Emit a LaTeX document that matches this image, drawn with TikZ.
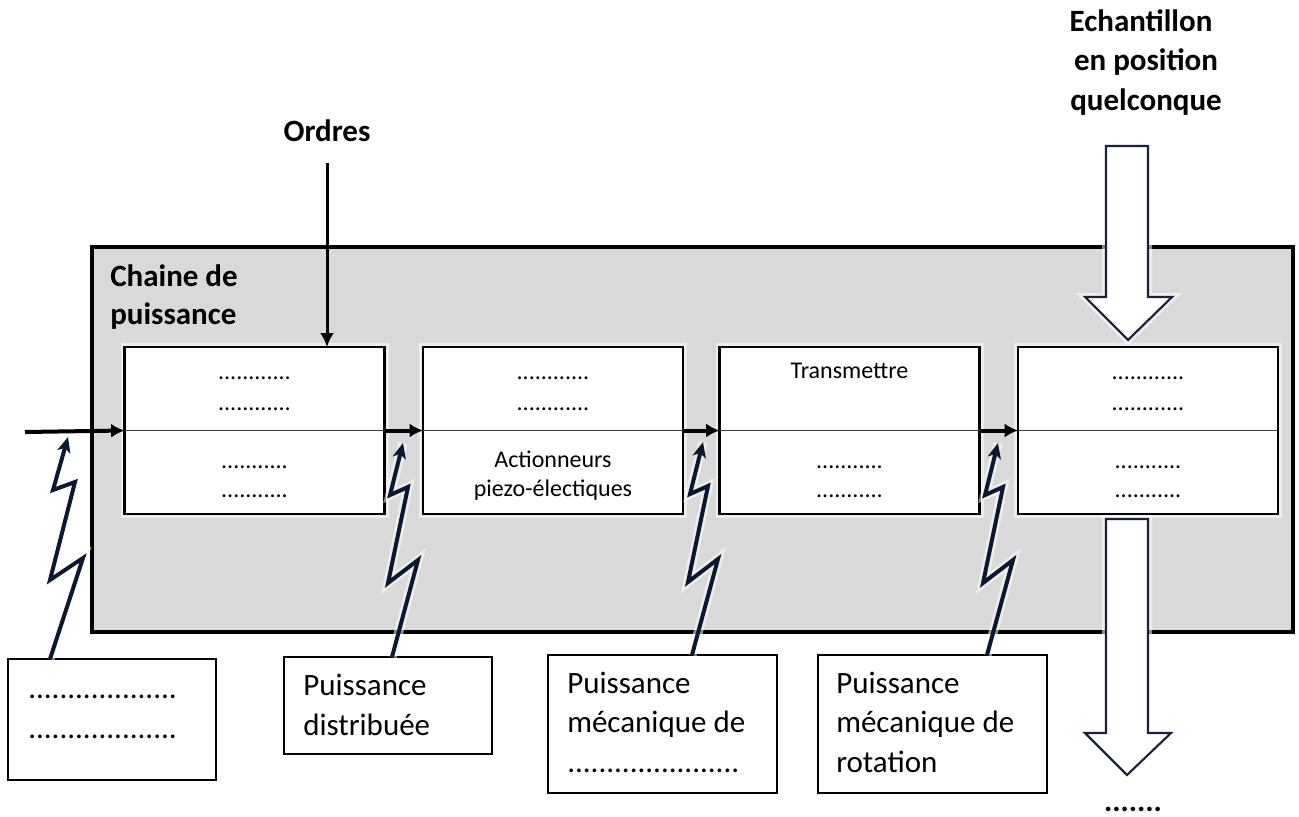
\documentclass[tikz,border=0pt]{standalone}
\usepackage{fontspec}
\setmainfont{Carlito}
\usetikzlibrary{arrows.meta,calc}
\definecolor{boxgray}{RGB}{217,217,217}
\definecolor{navy}{RGB}{12,24,48}
\definecolor{blockline}{RGB}{25,35,55}
\begin{document}
\begin{tikzpicture}[x=0.75pt,y=-0.75pt,
  titlef/.style={font=\fontsize{23.25}{30}\selectfont\bfseries, inner sep=0pt},
  bigf/.style={font=\fontsize{23.25}{30}\selectfont, inner sep=0pt},
  smallf/.style={font=\fontsize{18}{22}\selectfont, inner sep=0pt},
  glow/.style={preaction={draw=white, line width=#1, opacity=0.55}},
  outerbox/.style={draw=black, fill=boxgray, line width=3pt, outer sep=0pt, inner sep=0pt,
    minimum width=900.75pt, minimum height=288.75pt, glow=10pt},
  fbox/.style={draw=black, fill=white, line width=2pt, outer sep=0pt, inner sep=0pt,
    minimum width=195pt, minimum height=125.25pt, glow=6pt},
  lbox/.style={draw=black, fill=white, line width=1.8pt, outer sep=0pt, inner sep=0pt},
  divider/.style={draw=black!75, line width=1pt},
  harrow/.style={draw=black, line width=3pt, -{Latex[length=10pt,width=10.5pt]}},
  varrow/.style={draw=black, line width=2.25pt, -{Latex[length=10.5pt,width=10.5pt]}},
  bolt/.style={draw=navy, line width=3pt, line join=miter, miter limit=4,
    -{Stealth[length=11.5pt,width=10pt,inset=3pt]},
    preaction={draw=white, line width=7pt, opacity=0.55, -}},
  blockarrow/.style={draw=blockline, fill=white, line width=1.6pt, line join=miter,
    preaction={draw=white, line width=6pt, opacity=0.55}}
]
\useasboundingbox (0,0) rectangle (1299,817);

% container
\node[outerbox] (chaine) at (692.5,439.5) {};
\node[titlef, anchor=base west] (ch1) at (110,286) {Chaine de};
\node[titlef, anchor=base west] (ch2) at (110,324) {puissance};

% function boxes
\node[fbox] (b1) at (254.5,430.5) {};
\node[fbox] (b2) at (553,430.5) {};
\node[fbox] (b3) at (849.5,430.5) {};
\node[fbox] (b4) at (1148,430.5) {};
\foreach \b in {b1,b2,b3,b4}{\draw[divider] (\b.west) -- (\b.east);}

% texts in boxes
\node[smallf, anchor=base] (b1a) at (254.5,379) {............};
\node[smallf, anchor=base] (b1b) at (254.5,410) {............};
\node[smallf, anchor=base] (b1c) at (254.5,468) {...........};
\node[smallf, anchor=base] (b1d) at (254.5,497) {...........};
\node[smallf, anchor=base] (b2a) at (553,379) {............};
\node[smallf, anchor=base] (b2b) at (553,410) {............};
\node[smallf, anchor=base] (b2c) at (553,467) {Actionneurs};
\node[smallf, anchor=base] (b2d) at (553,496) {piezo-électiques};
\node[smallf, anchor=base] (b3a) at (849.5,378) {Transmettre};
\node[smallf, anchor=base] (b3c) at (849.5,468) {...........};
\node[smallf, anchor=base] (b3d) at (849.5,497) {...........};
\node[smallf, anchor=base] (b4a) at (1148,379) {............};
\node[smallf, anchor=base] (b4b) at (1148,410) {............};
\node[smallf, anchor=base] (b4c) at (1148,468) {...........};
\node[smallf, anchor=base] (b4d) at (1148,497) {...........};

% horizontal arrows
\coordinate (in) at (25,432);
\draw[harrow] (in) -- (b1.west);
\draw[harrow] (b1.east) -- (b2.west);
\draw[harrow] (b2.east) -- (b3.west);
\draw[harrow] (b3.east) -- (b4.west);

% Ordres
\node[titlef, anchor=base] (ordres) at (327,142) {Ordres};
\coordinate (ordstart) at (327,163);
\draw[varrow] (ordstart) -- (ordstart |- b1.north);

% Echantillon
\node[titlef, anchor=base] (ech1) at (1141,32) {Echantillon};
\node[titlef, anchor=base] (ech2) at (1146,71) {en position};
\node[titlef, anchor=base] (ech3) at (1146,110) {quelconque};
\draw[blockarrow] (1106,146) -- (1148,146) -- (1148,297) -- (1172,297) -- (1128,340)
  -- (1085,297) -- (1106,297) -- cycle;
\draw[blockarrow] (1106,519) -- (1148,519) -- (1148,733) -- (1171,733) -- (1127,775)
  -- (1085,733) -- (1106,733) -- cycle;
\node[titlef, anchor=base, text depth=0pt] (outdots) at (1133,811) {.......};

% bottom boxes
\node[lbox, minimum width=156pt, minimum height=90.75pt] (p1) at (112,719.5) {};
\node[lbox, minimum width=156pt, minimum height=72.75pt] (p2) at (388,705.5) {};
\node[lbox, minimum width=171.75pt, minimum height=103.5pt] (p3) at (662.5,724) {};
\node[lbox, minimum width=171.75pt, minimum height=103.5pt] (p4) at (932.5,724) {};

\node[bigf, anchor=base west] (p1a) at (28,698) {...................};
\node[bigf, anchor=base west] (p1b) at (28,738) {...................};
\node[bigf, anchor=base west] (p2a) at (303,695) {Puissance};
\node[bigf, anchor=base west] (p2b) at (303,735) {distribuée};
\node[bigf, anchor=base west] (p3a) at (567,693) {Puissance};
\node[bigf, anchor=base west] (p3b) at (567,732) {mécanique de};
\node[bigf, anchor=base west] (p3c) at (567,772) {......................};
\node[bigf, anchor=base west] (p4a) at (836,693) {Puissance};
\node[bigf, anchor=base west] (p4b) at (836,732) {mécanique de};
\node[bigf, anchor=base west] (p4c) at (836,772) {rotation};

% lightning bolts
\coordinate (t1) at (68,437);
\coordinate (t2) at (403,443);
\coordinate (t3) at (703,442);
\coordinate (t4) at (998,443);
\draw[bolt] ($(t1 |- p1.north)+(-18,0)$) -- ($(t1)+(15,121)$) -- ($(t1)+(-18,143)$)
  -- ($(t1)+(7,45)$) -- ($(t1)+(-15,53)$) -- (t1);
\draw[bolt] ($(t2 |- p2.north)+(-11,0)$) -- ($(t2)+(15,117)$) -- ($(t2)+(-15,140)$)
  -- ($(t2)+(5,44)$) -- ($(t2)+(-13,52)$) -- (t2);
\draw[bolt] ($(t3 |- p3.north)+(-11,0)$) -- ($(t3)+(15,117)$) -- ($(t3)+(-15,140)$)
  -- ($(t3)+(5,44)$) -- ($(t3)+(-13,52)$) -- (t3);
\draw[bolt] ($(t4 |- p4.north)+(-11,0)$) -- ($(t4)+(15,117)$) -- ($(t4)+(-15,140)$)
  -- ($(t4)+(5,44)$) -- ($(t4)+(-13,52)$) -- (t4);
\end{tikzpicture}
\end{document}
